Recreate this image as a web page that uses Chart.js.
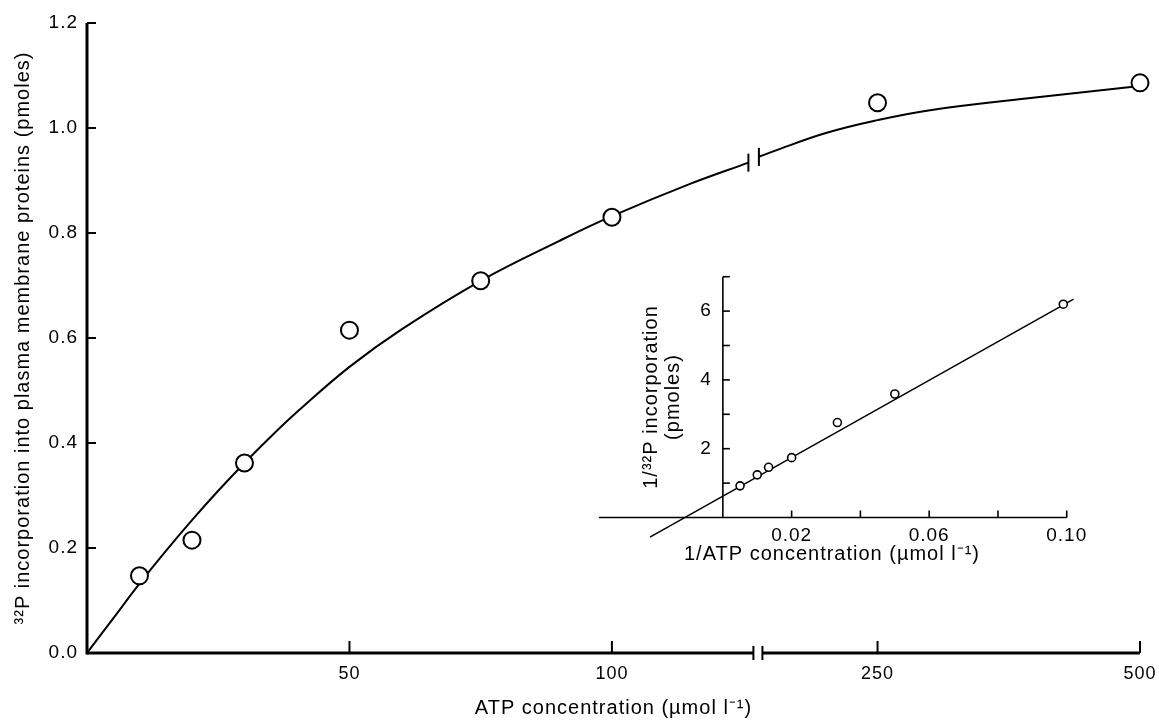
<!DOCTYPE html>
<html>
<head>
<meta charset="utf-8">
<script src="https://cdn.jsdelivr.net/npm/chart.js@4.4.0/dist/chart.umd.min.js"></script>
<style>
  html, body { margin: 0; background: #fff; }
</style>
</head>
<body>
<canvas id="myChart" width="1159" height="720"></canvas>
<script>
// main plot: ATP concentration (umol/l) vs 32P incorporation (pmoles)
const atpConc = [10, 20, 30, 50, 75, 100, 250, 500];
const incorporation = [0.147, 0.215, 0.362, 0.615, 0.709, 0.830, 1.048, 1.086];

// fitted curve (before and after the axis break)
const curveLowConc = [0, 5, 10, 15, 20, 25, 30, 35, 40, 50, 60, 75, 90, 100, 115, 126];
const curveLowVal = [0, 0.066, 0.132, 0.194, 0.253, 0.309, 0.362, 0.412, 0.459, 0.545, 0.617, 0.709, 0.785, 0.832, 0.894, 0.934];
const curveHighConc = [137, 150, 200, 250, 300, 400, 500];
const curveHighVal = [0.945, 0.955, 0.99, 1.015, 1.034, 1.058, 1.08];

const xTickConc = [50, 100, 250, 500];
const yTickVals = [0, 0.2, 0.4, 0.6, 0.8, 1.0, 1.2];

// inset: double reciprocal plot
const invAtp = [0.005, 0.01, 0.0133, 0.02, 0.0333, 0.05, 0.099];
const invIncorporation = [0.92, 1.24, 1.46, 1.74, 2.76, 3.59, 6.2];
const fitLineX = [-0.0212, 0.102];
const fitLineY = [-0.57, 6.35];
const insetXTicks = [0.02, 0.04, 0.06, 0.08, 0.10];
const insetXLabels = [0.02, 0.06, 0.10];
const insetYTicks = [1, 2, 3, 4, 5, 6, 7];
const insetYLabels = [2, 4, 6];
const insetXMin = -0.036;

// the x axis is broken: above the break 250 units of ATP take 50 units of axis
const BREAK_FROM = 128, BREAK_TO = 137, HIGH_SLOPE = 0.2;
function toPos(c) {
  return c <= BREAK_FROM ? c : BREAK_FROM + (c - BREAK_TO) * HIGH_SLOPE;
}

const FONT = '"Liberation Sans", Arial, sans-serif';

function pts(xs, ys, f) {
  return xs.map((v, i) => ({ x: f ? f(v) : v, y: ys[i] }));
}

function line(ctx, x1, y1, x2, y2) {
  ctx.beginPath();
  ctx.moveTo(x1, y1);
  ctx.lineTo(x2, y2);
  ctx.stroke();
}

const axesPlugin = {
  id: 'axesPlugin',
  beforeUpdate(chart) { chart.ctx.letterSpacing = '1px'; },
  beforeDraw(chart) {
    const ctx = chart.ctx;
    ctx.letterSpacing = '1px';
    ctx.save();
    ctx.fillStyle = '#fff';
    ctx.fillRect(0, 0, chart.width, chart.height);
    ctx.restore();
  },
  beforeDatasetsDraw(chart) {
    const { ctx, scales: { x, y, xi, yi } } = chart;
    ctx.save();
    ctx.strokeStyle = '#000';
    ctx.fillStyle = '#000';

    // main y axis
    const x0 = x.getPixelForValue(0);
    const y0 = y.getPixelForValue(0);
    ctx.lineWidth = 3;
    line(ctx, x0, y0 + 1.5, x0, y.getPixelForValue(1.2));
    ctx.lineWidth = 2;
    yTickVals.forEach(v => {
      const py = y.getPixelForValue(v);
      line(ctx, x0, py, x0 + 9, py);
    });

    // main x axis with break
    const bx = x.getPixelForValue(BREAK_FROM) - 1;
    ctx.lineWidth = 3;
    line(ctx, x0, y0, bx - 4.5, y0);
    line(ctx, bx + 4.5, y0, x.right, y0);
    ctx.lineWidth = 2;
    line(ctx, bx - 4.5, y0 - 7, bx - 4.5, y0 + 7);
    line(ctx, bx + 4.5, y0 - 7, bx + 4.5, y0 + 7);
    xTickConc.forEach(c => {
      const px = x.getPixelForValue(toPos(c));
      line(ctx, px, y0, px, y0 - 12);
    });

    // break marks on the curve
    const lowMeta = chart.getDatasetMeta(1).data;
    const highMeta = chart.getDatasetMeta(2).data;
    [lowMeta[lowMeta.length - 1], highMeta[0]].forEach(p => {
      line(ctx, p.x, p.y - 9, p.x, p.y + 9);
    });

    // inset axes
    const ix0 = xi.getPixelForValue(0);
    const iy0 = yi.getPixelForValue(0);
    ctx.lineWidth = 1.6;
    line(ctx, ix0, iy0, ix0, yi.getPixelForValue(insetYTicks[insetYTicks.length - 1]));
    insetYTicks.forEach(v => {
      const py = yi.getPixelForValue(v);
      line(ctx, ix0, py, ix0 + 7, py);
    });
    line(ctx, xi.getPixelForValue(insetXMin), iy0, xi.getPixelForValue(0.10), iy0);
    insetXTicks.forEach(v => {
      const px = xi.getPixelForValue(v);
      line(ctx, px, iy0, px, iy0 - 7);
    });

    ctx.font = '19px ' + FONT;
    ctx.textAlign = 'right';
    ctx.textBaseline = 'middle';
    insetYLabels.forEach(v => {
      ctx.fillText(String(v), ix0 - 11, yi.getPixelForValue(v));
    });
    ctx.textAlign = 'center';
    insetXLabels.forEach(v => {
      ctx.fillText(v.toFixed(2), xi.getPixelForValue(v), iy0 + 18);
    });

    ctx.font = '20px ' + FONT;
    ctx.fillText('1/ATP concentration (\u00b5mol l\u207b\u00b9)', 832, iy0 + 37);

    ctx.translate(651, 397);
    ctx.rotate(-Math.PI / 2);
    ctx.fillText('1/\u00b3\u00b2P incorporation', 0, 0);
    ctx.fillText('(pmoles)', 0, 22);
    ctx.restore();
  }
};

const ctx = document.getElementById('myChart');
const chart = new Chart(ctx, {
  type: 'scatter',
  data: {
    datasets: [
      {
        data: pts(atpConc, incorporation, toPos),
        pointRadius: 8.5,
        borderWidth: 2,
        borderColor: '#000',
        backgroundColor: '#fff',
        clip: false,
        order: 0
      },
      {
        data: pts(curveLowConc, curveLowVal, toPos),
        showLine: true,
        pointRadius: 0,
        borderWidth: 2,
        borderColor: '#000',
        tension: 0.4,
        order: 1
      },
      {
        data: pts(curveHighConc, curveHighVal, toPos),
        showLine: true,
        pointRadius: 0,
        borderWidth: 2,
        borderColor: '#000',
        tension: 0.4,
        order: 1
      },
      {
        data: pts(invAtp, invIncorporation),
        xAxisID: 'xi',
        yAxisID: 'yi',
        pointRadius: 4,
        borderWidth: 1.6,
        borderColor: '#000',
        backgroundColor: '#fff',
        order: 0
      },
      {
        data: pts(fitLineX, fitLineY),
        xAxisID: 'xi',
        yAxisID: 'yi',
        showLine: true,
        pointRadius: 0,
        borderWidth: 1.5,
        borderColor: '#000',
        order: 1
      }
    ]
  },
  options: {
    responsive: false,
    animation: false,
    layout: { padding: { left: 0, right: 19, top: 23, bottom: 0 } },
    plugins: { legend: { display: false }, tooltip: { enabled: false } },
    scales: {
      x: {
        type: 'linear',
        min: 0,
        max: toPos(500),
        grid: { display: false, drawTicks: false },
        border: { display: false },
        afterFit: s => { s.height = 67; s.paddingLeft = 0; s.paddingRight = 0; },
        afterBuildTicks: s => { s.ticks = xTickConc.map(c => ({ value: toPos(c) })); },
        ticks: {
          autoSkip: false,
          maxRotation: 0,
          padding: 10,
          color: '#000',
          font: { family: FONT, size: 18 },
          callback: (v, i) => String(xTickConc[i])
        },
        title: {
          display: true,
          text: 'ATP concentration (\u00b5mol l\u207b\u00b9)',
          color: '#000',
          font: { family: FONT, size: 20 },
          padding: { top: 0, bottom: 0 }
        }
      },
      y: {
        min: 0,
        max: 1.2,
        grid: { display: false, drawTicks: false },
        border: { display: false },
        afterFit: s => { s.width = 87; s.paddingTop = 0; s.paddingBottom = 0; },
        afterBuildTicks: s => { s.ticks = yTickVals.map(v => ({ value: v })); },
        ticks: {
          padding: 9,
          color: '#000',
          font: { family: FONT, size: 19 },
          callback: v => v.toFixed(1)
        },
        title: {
          display: true,
          text: '\u00b3\u00b2P incorporation into plasma membrane proteins (pmoles)',
          color: '#000',
          font: { family: FONT, size: 20 },
          padding: { top: 11, bottom: 0 }
        }
      },
      xi: {
        type: 'linear',
        position: 'bottom',
        display: false,
        min: -0.1849,
        max: 0.1213
      },
      yi: {
        type: 'linear',
        position: 'left',
        display: false,
        min: -3.939,
        max: 14.375
      }
    }
  },
  plugins: [axesPlugin]
});
</script>
</body>
</html>
